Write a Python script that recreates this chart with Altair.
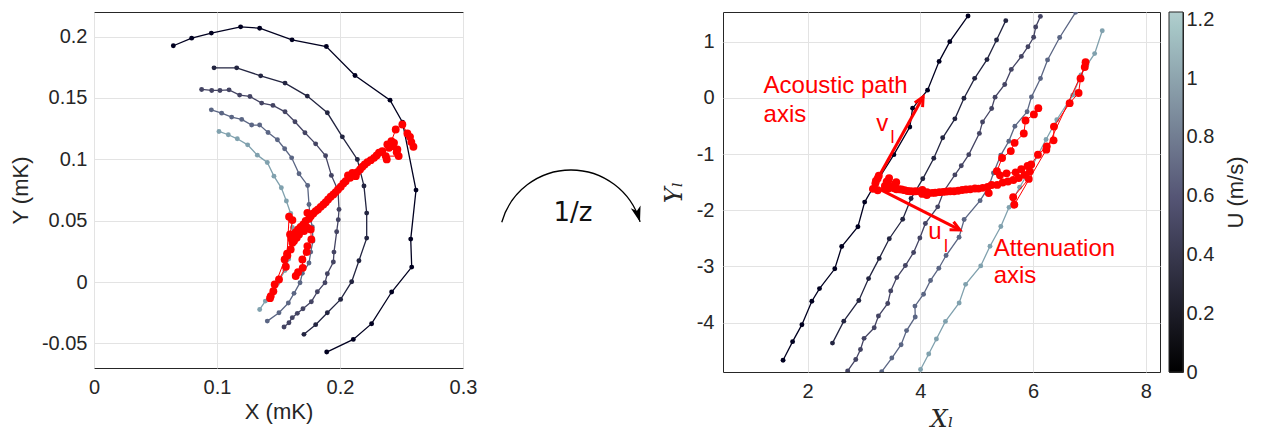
import altair as alt
import pandas as pd

# ---------------- data (left panel, mK) ----------------
U_levels = [0.0, 0.25, 0.48, 0.68, 0.98]

c1_x = [0.0645, 0.0794, 0.0954, 0.1192, 0.1347, 0.1610, 0.1889, 0.2122, 0.2407, 0.2508, 0.2618, 0.2575, 0.2583, 0.2420, 0.2257, 0.2108, 0.1892]
c1_y = [0.1925, 0.1987, 0.2028, 0.2079, 0.2068, 0.1973, 0.1919, 0.1683, 0.1482, 0.1302, 0.0749, 0.0350, 0.0122, -0.0081, -0.0339, -0.0467, -0.0570]

c2_x = [0.0976, 0.1160, 0.1355, 0.1553, 0.1734, 0.1897, 0.2019, 0.2141, 0.2195, 0.2217, 0.2217, 0.2154, 0.2095, 0.2005, 0.1897, 0.1802, 0.1707]
c2_y = [0.1745, 0.1745, 0.1680, 0.1621, 0.1515, 0.1379, 0.1183, 0.0999, 0.0782, 0.0562, 0.0358, 0.0174, 0.0003, -0.0141, -0.0250, -0.0347, -0.0426]

c3_x = [0.0875, 0.0957, 0.1024, 0.1098, 0.1184, 0.1268, 0.1363, 0.1455, 0.1553, 0.1634, 0.1715, 0.1802, 0.1883, 0.1930, 0.1984, 0.1992, 0.1986, 0.1973, 0.1951, 0.1946, 0.1897, 0.1878, 0.1816, 0.1767, 0.1699, 0.1653, 0.1612, 0.1585, 0.1545]
c3_y = [0.1569, 0.1561, 0.1561, 0.1566, 0.1523, 0.1512, 0.1458, 0.1439, 0.1387, 0.1306, 0.1216, 0.1126, 0.1029, 0.0869, 0.0746, 0.0592, 0.0508, 0.0410, 0.0244, 0.0163, 0.0068, -0.0005, -0.0079, -0.0160, -0.0217, -0.0255, -0.0290, -0.0331, -0.0366]

c4_x = [0.0954, 0.1038, 0.1119, 0.1201, 0.1282, 0.1347, 0.1415, 0.1491, 0.1550, 0.1607, 0.1667, 0.1737, 0.1748, 0.1756, 0.1775, 0.1780, 0.1762, 0.1748, 0.1694, 0.1675, 0.1626, 0.1580, 0.1504, 0.1409]
c4_y = [0.1403, 0.1376, 0.1344, 0.1325, 0.1279, 0.1279, 0.1219, 0.1159, 0.1086, 0.1012, 0.0882, 0.0787, 0.0632, 0.0537, 0.0448, 0.0334, 0.0244, 0.0155, 0.0071, -0.0005, -0.0092, -0.0171, -0.0250, -0.0318]

c5_x = [0.1016, 0.1092, 0.1165, 0.1249, 0.1328, 0.1409, 0.1463, 0.1523, 0.1564, 0.1599, 0.1613, 0.1605, 0.1583, 0.1552, 0.1492, 0.1455, 0.1428, 0.1393, 0.1347]
c5_y = [0.1227, 0.1200, 0.1167, 0.1118, 0.1034, 0.0974, 0.0863, 0.0768, 0.0660, 0.0559, 0.0445, 0.0320, 0.0188, 0.0094, -0.0011, -0.0087, -0.0120, -0.0155, -0.0223]

red_x = [0.2597, 0.2580, 0.2569, 0.2548, 0.2507, 0.2453, 0.2418, 0.2385, 0.2426, 0.2439,
         0.2399, 0.2466, 0.2461, 0.2477, 0.2372, 0.2380, 0.2344, 0.2317, 0.2298, 0.2277,
         0.2250, 0.2223, 0.2201, 0.2182, 0.2163, 0.2141, 0.2128, 0.2101, 0.2082, 0.2065,
         0.2046, 0.2027, 0.2006, 0.1984, 0.1965, 0.1946, 0.1924, 0.1903, 0.1884, 0.1865,
         0.1843, 0.1821, 0.1802, 0.1783, 0.1762, 0.1735, 0.1748, 0.1721, 0.1702, 0.1680,
         0.1659, 0.1640, 0.1621, 0.1605, 0.1613, 0.1599, 0.1572, 0.1550, 0.1560, 0.1504,
         0.1469, 0.1458, 0.1431, 0.1437, 0.1570, 0.1586, 0.1613, 0.1594, 0.1626, 0.1648,
         0.1667, 0.1708, 0.1735, 0.1762, 0.1767, 0.1735, 0.1729, 0.1694, 0.1697, 0.1659,
         0.1640]
red_y = [0.1102, 0.1140, 0.1183, 0.1210, 0.1284, 0.1243, 0.1148, 0.1121, 0.1107, 0.1134,
         0.1094, 0.1080, 0.1058, 0.1026, 0.1026, 0.0999, 0.1067, 0.1053, 0.1031, 0.1012,
         0.0993, 0.0977, 0.0958, 0.0939, 0.0917, 0.0896, 0.0863, 0.0890, 0.0849, 0.0868,
         0.0822, 0.0803, 0.0776, 0.0754, 0.0733, 0.0714, 0.0695, 0.0673, 0.0651, 0.0632,
         0.0613, 0.0591, 0.0578, 0.0559, 0.0537, 0.0564, 0.0515, 0.0497, 0.0469, 0.0450,
         0.0429, 0.0407, 0.0380, 0.0353, 0.0320, 0.0266, 0.0217, 0.0184, 0.0125, 0.0021,
         -0.0019, -0.0074, -0.0131, -0.0114, 0.0232, 0.0532, 0.0505, 0.0388, 0.0334, 0.0361,
         0.0388, 0.0415, 0.0442, 0.0429, 0.0347, 0.0293, 0.0244, 0.0184, 0.0116, 0.0081,
         0.0049]

# arrows and labels in the right panel (data units of X_l, Y_l)
arrow_x0 = [3.17, 3.17]
arrow_y0 = [-1.57, -1.57]
arrow_x1 = [4.05, 4.70]
arrow_y1 = [0.02, -2.35]
arrow_ang = [29, 117]

label_text = ["Acoustic path", "axis", "v", "u", "Attenuation", "axis"]
label_x = [1.22, 1.22, 3.22, 4.14, 5.30, 5.30]
label_y = [0.08, -0.42, -0.58, -2.51, -2.81, -3.30]
sub_text = ["l", "l"]
sub_x = [3.47, 4.42]
sub_y = [-0.80, -2.74]

cbar_ticks = [0, 0.2, 0.4, 0.6, 0.8, 1.0, 1.2]
U_max = 1.225

# ---------------- tables ----------------
rows = []
for k, (xs, ys) in enumerate([(c1_x, c1_y), (c2_x, c2_y), (c3_x, c3_y), (c4_x, c4_y), (c5_x, c5_y)]):
    for i, (x, y) in enumerate(zip(xs, ys)):
        rows.append({"x": x, "y": y, "U": U_levels[k], "curve": k, "i": i})
df_c = pd.DataFrame(rows)
df_r = pd.DataFrame({"x": red_x, "y": red_y, "t": list(range(len(red_x)))})
df_a = pd.DataFrame({"x0": arrow_x0, "y0": arrow_y0, "x1": arrow_x1, "y1": arrow_y1, "ang": arrow_ang})
df_l = pd.DataFrame({"txt": label_text, "x": label_x, "y": label_y})
df_s = pd.DataFrame({"txt": sub_text, "x": sub_x, "y": sub_y})

RED = "#ff0000"
FONT = "Liberation Sans"
minus_fix = "replace(format(datum.value, '~g'), '\u2212', '-')"

cscale = alt.Scale(domain=[0, 0.481 * U_max, 0.9615 * U_max, U_max],
                   range=["#000000", "#545474", "#a7c7c7", "#b2cece"])
col = alt.Color("U:Q", scale=cscale, legend=None)

# ---------------- left panel ----------------
lx = alt.X("x:Q", scale=alt.Scale(domain=[0, 0.3], nice=False, zero=False),
           axis=alt.Axis(values=[0, 0.1, 0.2, 0.3], title="X (mK)", labelExpr=minus_fix,
                         labelPadding=9, titlePadding=4))
ly = alt.Y("y:Q", scale=alt.Scale(domain=[-0.07, 0.22], nice=False, zero=False),
           axis=alt.Axis(values=[-0.05, 0, 0.05, 0.1, 0.15, 0.2], title="Y (mK)",
                         labelExpr=minus_fix, labelPadding=7, titlePadding=9))

left = alt.layer(
    alt.Chart(df_c).mark_line(strokeWidth=1.3).encode(x=lx, y=ly, color=col, detail="curve:N", order="i:Q"),
    alt.Chart(df_c).mark_circle(size=24, opacity=1).encode(x=lx, y=ly, color=col),
    alt.Chart(df_r).mark_line(color=RED, strokeWidth=1).encode(x=lx, y=ly, order="t:Q"),
    alt.Chart(df_r).mark_circle(color=RED, size=62, opacity=1).encode(x=lx, y=ly),
).properties(width=369, height=356)

# ---------------- middle (1/z mapping) ----------------
cx, cy = 108, 230
one = pd.DataFrame({"k": [0]})
mid = alt.layer(
    alt.Chart(one).mark_arc(radius=72, radius2=72, theta=4.99, theta2=7.57, fillOpacity=0,
                            stroke="black", strokeWidth=1.3).encode(x=alt.value(cx), y=alt.value(cy)),
    alt.Chart(one).mark_point(shape="M0,0L-0.55,1.7L0,1.25L0.55,1.7Z", filled=True, color="black",
                              opacity=1, size=340, angle=164).encode(x=alt.value(cx + 69), y=alt.value(cy - 20)),
    alt.Chart(one).mark_text(text="1/z", font="DejaVu Sans", fontSize=26, color="#111111",
                             align="center", baseline="middle").encode(x=alt.value(cx + 2), y=alt.value(cy - 29)),
).properties(width=260, height=356, view=alt.ViewBackground(stroke="transparent"))

# ---------------- right panel (1/z of the left data) ----------------
inv_x = "datum.x/(datum.x*datum.x+datum.y*datum.y)"
inv_y = "-datum.y/(datum.x*datum.x+datum.y*datum.y)"
rsx = alt.Scale(domain=[0.5, 8.25], nice=False, zero=False)
rsy = alt.Scale(domain=[-4.88, 1.53], nice=False, zero=False)
rax = alt.Axis(values=[2, 4, 6, 8], title="X\u2097", labelExpr=minus_fix,
               titleFont="DejaVu Serif", titleFontStyle="italic", titleFontSize=24,
               labelPadding=9, titlePadding=6)
ray = alt.Axis(values=[-4, -3, -2, -1, 0, 1], title="Y\u2097", labelExpr=minus_fix,
               titleFont="DejaVu Serif", titleFontStyle="italic", titleFontSize=24,
               labelPadding=9, titlePadding=10)

def RX(f):
    return alt.X(f, scale=rsx, axis=rax)

def RY(f):
    return alt.Y(f, scale=rsy, axis=ray)

cr = alt.Chart(df_c).transform_calculate(Xl=inv_x, Yl=inv_y)
rr = alt.Chart(df_r).transform_calculate(Xl=inv_x, Yl=inv_y)

right = alt.layer(
    cr.mark_line(strokeWidth=1.3, clip=True).encode(x=RX("Xl:Q"), y=RY("Yl:Q"), color=col, detail="curve:N", order="i:Q"),
    cr.mark_circle(size=24, opacity=1, clip=True).encode(x=RX("Xl:Q"), y=RY("Yl:Q"), color=col),
    rr.mark_line(color=RED, strokeWidth=1, clip=True).encode(x=RX("Xl:Q"), y=RY("Yl:Q"), order="t:Q"),
    rr.mark_circle(color=RED, size=62, opacity=1, clip=True).encode(x=RX("Xl:Q"), y=RY("Yl:Q")),
    alt.Chart(df_a).mark_rule(color=RED, strokeWidth=3).encode(
        x=RX("x0:Q"), y=RY("y0:Q"), x2="x1:Q", y2="y1:Q"),
    alt.Chart(df_a).mark_point(shape="M-0.6,1.25L0,0L0.6,1.25", filled=False, color=RED,
                               strokeWidth=3, size=220, opacity=1).encode(
        x=RX("x1:Q"), y=RY("y1:Q"), angle=alt.Angle("ang:Q", scale=None)),
    alt.Chart(df_l).mark_text(color=RED, font=FONT, fontSize=24, align="left", baseline="alphabetic").encode(
        x=RX("x:Q"), y=RY("y:Q"), text="txt:N"),
    alt.Chart(df_s).mark_text(color=RED, font=FONT, fontSize=18, align="left", baseline="alphabetic").encode(
        x=RX("x:Q"), y=RY("y:Q"), text="txt:N"),
).properties(width=437, height=360)

# ---------------- colorbar ----------------
grad = alt.Gradient(gradient="linear",
                    stops=[alt.GradientStop(color="#000000", offset=0),
                           alt.GradientStop(color="#545474", offset=0.481),
                           alt.GradientStop(color="#a7c7c7", offset=0.9615),
                           alt.GradientStop(color="#b2cece", offset=1)],
                    x1=0, x2=0, y1=1, y2=0)
cbar = alt.Chart(pd.DataFrame({"lo": [0.0], "hi": [U_max]})).mark_rect(
    color=grad, stroke="#262626", strokeWidth=1).encode(
    y=alt.Y("lo:Q", scale=alt.Scale(domain=[0, U_max], nice=False, zero=False),
            axis=alt.Axis(orient="right", values=cbar_ticks, title="U (m/s)", titleAngle=270,
                          titleBaseline="top", grid=False, labelExpr=minus_fix,
                          labelPadding=3, titlePadding=12)),
    y2="hi:Q", x=alt.value(0), x2=alt.value(14)
).properties(width=14, height=360)

chart = alt.hconcat(
    left, mid, alt.hconcat(right, cbar, spacing=9, bounds="flush"),
    spacing=0, bounds="flush"
).properties(
    padding={"left": 0, "top": 0, "right": 0, "bottom": 0}
).configure(font=FONT).configure_axis(
    labelFont=FONT, labelFontSize=20, labelColor="#262626",
    titleFont=FONT, titleFontSize=22, titleFontWeight="normal", titleColor="#262626",
    gridColor="#e3e3e3", gridWidth=1, domain=False, ticks=False,
    labelFlush=False, labelOverlap=False
).configure_view(stroke="#262626", strokeWidth=1)

chart.save("out.html", embed_options={"renderer": "svg", "actions": False})
